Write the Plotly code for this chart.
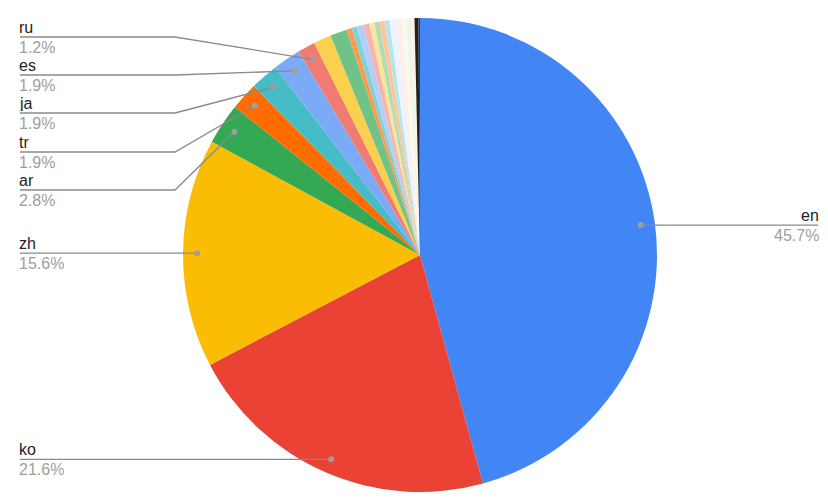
import math
import plotly.graph_objects as go

# ---- data ----
languages = ["en", "ko", "zh", "ar", "tr", "ja", "es", "ru",
             "de", "fr", "it", "pt", "vi", "id", "nl", "pl", "th", "hi",
             "fa", "uk", "sv", "he", "cs", "el", "other"]
shares = [45.7, 21.6, 15.6, 2.8, 1.9, 1.9, 1.9, 1.2,
          1.2, 1.15, 0.36, 0.36, 0.45, 0.40, 0.36, 0.34, 0.34, 0.34,
          0.45, 0.34, 0.34, 0.34, 0.22, 0.27, 0.10]
colors = ["#4285F4", "#EA4335", "#FBBC04", "#34A853", "#FF6D01", "#46BDC6",
          "#7BAAF7", "#F07B72", "#FCD04F", "#71C287", "#FF994D", "#7ED1D7",
          "#B3CEFB", "#F7B4AE", "#FDE49B", "#AEDCBA", "#FFC599", "#B5E5E8",
          "#ECF3FE", "#FDEDEC", "#FEF8E6", "#EBF6EE", "#FFF0E6", "#202124",
          "#4A2A4A"]
labeled = ["en", "ko", "zh", "ar", "tr", "ja", "es", "ru"]
label_pcts = {"en": "45.7%", "ko": "21.6%", "zh": "15.6%", "ar": "2.8%",
              "tr": "1.9%", "ja": "1.9%", "es": "1.9%", "ru": "1.2%"}

# ---- layout geometry (pixels) ----
W, H = 828, 504
CX, CY, R = 420, 255, 237
DOT_R = 0.94 * R
LEFT_X, ELBOW_X, RIGHT_X = 20, 175, 818
stack_y = {"ar": 190, "tr": 152, "ja": 113, "es": 75, "ru": 37}

def px(x):
    return x / W

def py(y):
    return 1 - y / H

fig = go.Figure(go.Pie(
    labels=languages, values=shares, sort=False, direction="clockwise",
    rotation=0, marker=dict(colors=colors, line=dict(width=0)),
    textinfo="none", hoverinfo="label+percent",
    domain=dict(x=[px(CX - R), px(CX + R)], y=[py(CY + R), py(CY - R)]),
    showlegend=False,
))

total = sum(shares)
cum = 0.0
mids = {}
for lang, v in zip(languages, shares):
    mids[lang] = (cum + v / 2) / total * 360.0
    cum += v

shapes = []
annotations = []
LINE = dict(color="#8a8a8a", width=1.3)
for lang in labeled:
    th = math.radians(mids[lang])
    dx = CX + DOT_R * math.sin(th)
    dy = CY - DOT_R * math.cos(th)
    right = dx > CX
    if right:
        ly = dy
        path = f"M {px(dx)} {py(ly)} L {px(RIGHT_X)} {py(ly)}"
        tx, anchor = RIGHT_X, "right"
    elif lang in stack_y:
        ly = stack_y[lang]
        path = (f"M {px(LEFT_X)} {py(ly)} L {px(ELBOW_X)} {py(ly)} "
                f"L {px(dx)} {py(dy)}")
        tx, anchor = LEFT_X, "left"
    else:
        ly = dy
        path = f"M {px(LEFT_X)} {py(ly)} L {px(dx)} {py(ly)}"
        tx, anchor = LEFT_X, "left"
    shapes.append(dict(type="path", path=path, xref="paper", yref="paper",
                       line=LINE, layer="above"))
    shapes.append(dict(type="circle", xref="paper", yref="paper",
                       x0=px(dx - 3), x1=px(dx + 3), y0=py(dy + 3), y1=py(dy - 3),
                       fillcolor="#9e9e9e", line=dict(width=0), layer="above"))
    common = dict(xref="paper", yref="paper", showarrow=False, xanchor=anchor,
                  yanchor="middle", borderpad=0, height=15,
                  xshift=-2 if anchor == "left" else 2)
    annotations.append(dict(x=px(tx), y=py(ly - 9.5), text=lang,
                            font=dict(family="Arial", size=16, color="#222222"),
                            **common))
    annotations.append(dict(x=px(tx), y=py(ly + 10.5), text=label_pcts[lang],
                            font=dict(family="Arial", size=16, color="#9e9e9e"),
                            **common))

fig.update_layout(
    width=W, height=H, margin=dict(l=0, r=0, t=0, b=0),
    paper_bgcolor="white", plot_bgcolor="white",
    shapes=shapes, annotations=annotations,
)
fig.write_html("out.html", config={"displayModeBar": False},
               post_script="document.body.style.margin='0';"
                           "document.body.style.overflow='hidden';")
